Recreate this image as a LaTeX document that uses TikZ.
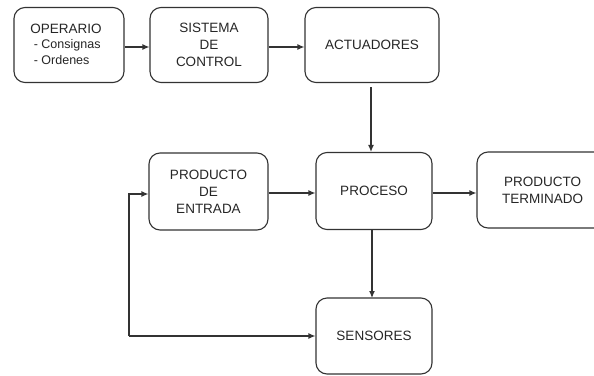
\documentclass[tikz,border=0pt]{standalone}
\usepackage{fontspec}
\setmainfont{Liberation Sans}
\usetikzlibrary{arrows.meta}
\begin{document}
\begin{tikzpicture}[x=1pt,y=-1pt,
  blk/.style={draw=black!80,line width=1.1pt,rounded corners=11pt,fill=white,
    font=\fontsize{13.5}{17}\selectfont,text=black!85,align=center,inner sep=0pt},
  con/.style={draw=black!80,line width=1.2pt,-{Latex[length=7pt,width=6pt]}}]
\useasboundingbox (0,0) rectangle (594,375);
\node[blk,minimum width=110pt,minimum height=75pt] (op) at (69,45) {};
\node[font=\fontsize{13.5}{15.5}\selectfont,text=black!85,align=left,inner sep=0pt] (opt) at (66,44) {OPERARIO\\{\fontsize{12.5}{15.5}\selectfont\ - Consignas}\\{\fontsize{12.5}{15.5}\selectfont\ - Ordenes}};
\node[blk,minimum width=118pt,minimum height=75pt] (sc) at (209,45) {SISTEMA\\DE\\CONTROL};
\node[blk,minimum width=134pt,minimum height=75pt] (ac) at (372,45) {ACTUADORES};
\node[blk,minimum width=119pt,minimum height=77pt] (pe) at (208.5,191.5) {PRODUCTO\\DE\\ENTRADA};
\node[blk,minimum width=116pt,minimum height=77pt] (pr) at (374,191) {PROCESO};
\node[blk,minimum width=131pt,minimum height=76pt] (pt) at (542.5,190) {PRODUCTO\\TERMINADO};
\node[blk,minimum width=116pt,minimum height=76pt] (se) at (374,336) {SENSORES};
\coordinate (acb) at (371,87);
\coordinate (fb1) at (129,336);
\coordinate (fb2) at (129,194);
\draw[con] (op.east |- 0,47) -- (sc.west |- 0,47);
\draw[con] (sc.east |- 0,47) -- (ac.west |- 0,47);
\draw[con] (acb) -- (acb |- pr.north);
\draw[con] (pe.east |- 0,193) -- (pr.west |- 0,193);
\draw[con] (pr.east |- 0,193) -- (pt.west |- 0,193);
\draw[con] (372,230) -- (372,298);
\draw[con] (fb1) -- (se.west |- fb1);
\draw[con] (fb1) -- (fb2) -- (pe.west |- fb2);
\end{tikzpicture}
\end{document}
